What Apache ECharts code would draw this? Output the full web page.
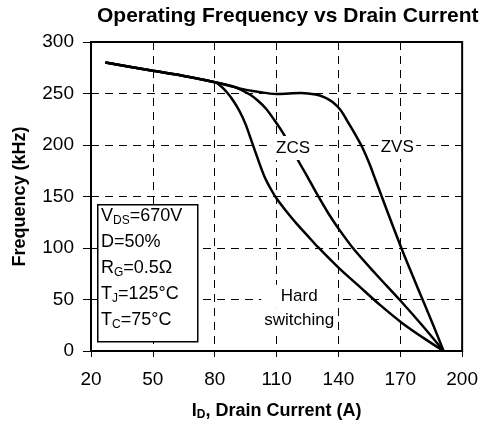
<!DOCTYPE html>
<html>
<head>
<meta charset="utf-8">
<script src="https://cdn.jsdelivr.net/npm/echarts@6/dist/echarts.min.js"></script>
<style>
  html, body { margin: 0; padding: 0; background: #fff; }
  #chart { width: 481px; height: 428px; }
</style>
</head>
<body>
<div id="chart"></div>
<script>
// x axis: drain current 20..200 A, ticks every 30 (shifted so ticks start at 20)
const xStart = 20;
const xTicks = [20, 50, 80, 110, 140, 170, 200];
const yTicks = [0, 50, 100, 150, 200, 250, 300];

// curves (I_D in A, frequency in kHz)
const hardX = [27, 50, 65, 80, 83, 86, 89, 92, 95, 98, 101, 104, 107, 110, 115, 120, 125, 130, 140, 150, 160, 171, 181, 191];
const hardY = [280, 272, 267, 261, 257, 251, 243, 233, 220, 203, 186, 170, 158, 148, 135, 123, 112, 101, 81, 63, 45, 27, 13, 0];

const zcsX = [27, 50, 65, 80, 90, 97, 101, 105, 109, 113, 117, 121, 125, 130, 135, 140, 147, 158, 170, 181, 191];
const zcsY = [280, 272, 267, 261, 256, 249, 243, 235, 224, 212, 198, 183, 169, 151, 134, 119, 100, 75, 49, 24, 0];

const zvsX = [27, 50, 65, 80, 92, 100, 110, 116, 122, 129, 133, 137, 141, 145, 148.5, 151.5, 155, 158, 164, 170.5, 176, 181, 186, 191];
const zvsY = [280, 272, 267, 261, 255, 252, 249.5, 250, 250.5, 249, 246.5, 242, 234, 221, 209, 198, 182, 166, 134, 100, 73, 49, 25, 0];

// curve annotations (data coords)
const noteX = [118, 168.5, 121];
const noteY = [197, 198, 41];
const noteText = ['ZCS', 'ZVS', 'Hard\nswitching'];
const noteWidth = [40, 38, 76];

const conditions = [
  '{n|V}{s|DS}{n|=670V}',
  '{n|D=50%}',
  '{n|R}{s|G}{n|=0.5Ω}',
  '{n|T}{s|J}{n|=125°C}',
  '{n|T}{s|C}{n|=75°C}'
];

const pts = (xs, ys) => xs.map((x, i) => [x - xStart, ys[i]]);

const font = '"Liberation Sans", Arial, sans-serif';
const curve = (name, xs, ys) => ({
  name: name,
  type: 'line',
  data: pts(xs, ys),
  symbol: 'none',
  smooth: 0.3,
  lineStyle: { color: '#000', width: 2.5 },
  z: 3
});

const chart = echarts.init(document.getElementById('chart'));
chart.setOption({
  animation: false,
  backgroundColor: '#fff',
  textStyle: { fontFamily: font },
  title: {
    text: 'Operating Frequency vs Drain Current',
    left: 92,
    top: 1,
    textStyle: { fontFamily: font, fontSize: 21, fontWeight: 'bold', color: '#000' }
  },
  grid: {
    left: 91, right: 18, top: 42, bottom: 77,
    show: true, borderColor: '#000', borderWidth: 2
  },
  xAxis: {
    type: 'value',
    min: 0,
    max: xTicks[xTicks.length - 1] - xStart,
    interval: 30,
    name: '{a|I}{s|D}{a|, Drain Current (A)}',
    nameLocation: 'middle',
    nameGap: 50,
    nameTextStyle: {
      rich: {
        a: { fontFamily: font, fontSize: 18, fontWeight: 'bold', color: '#000' },
        s: { fontFamily: font, fontSize: 12, fontWeight: 'bold', color: '#000', padding: [8, 0, 0, 0] }
      }
    },
    axisLine: { lineStyle: { color: '#000', width: 2 } },
    axisTick: { length: 6, lineStyle: { color: '#000', width: 1 } },
    axisLabel: {
      margin: 19,
      fontSize: 19, color: '#000', fontFamily: font,
      formatter: v => String(v + xStart)
    },
    splitLine: { lineStyle: { color: '#000', width: 1, type: [8, 6] } }
  },
  yAxis: [{
    type: 'value',
    min: yTicks[0],
    max: yTicks[yTicks.length - 1],
    interval: 50,
    name: 'Frequency (kHz)',
    nameLocation: 'middle',
    nameGap: 62,
    nameTextStyle: { fontFamily: font, fontSize: 18, fontWeight: 'bold', color: '#000' },
    axisLine: { show: true, lineStyle: { color: '#000', width: 2 } },
    axisTick: { show: true, length: 8, lineStyle: { color: '#000', width: 1 } },
    axisLabel: { margin: 17, fontSize: 19, color: '#000', fontFamily: font },
    splitLine: { lineStyle: { color: '#000', width: 1, type: [8, 6] } }
  }, {
    // same scale again, only to draw the inner half of the ticks
    type: 'value',
    position: 'left',
    min: yTicks[0],
    max: yTicks[yTicks.length - 1],
    interval: 50,
    axisLine: { show: false },
    axisTick: { show: true, inside: true, length: 8, lineStyle: { color: '#000', width: 1 } },
    axisLabel: { show: false },
    splitLine: { show: false }
  }],
  series: [
    curve('Hard switching', hardX, hardY),
    curve('ZCS', zcsX, zcsY),
    curve('ZVS', zvsX, zvsY)
  ]
});

// annotations placed at data coordinates through the chart's own axes
const notes = noteX.map((x, i) => {
  const p = chart.convertToPixel({ gridIndex: 0 }, [x - xStart, noteY[i]]);
  return {
    type: 'text',
    x: p[0],
    y: p[1],
    z: 20,
    style: {
      text: noteText[i].split('\n').map(s => '{b|' + s + '}').join('\n'),
      align: 'center',
      verticalAlign: 'middle',
      rich: {
        b: {
          fontFamily: font,
          fontSize: 17,
          lineHeight: 24,
          height: 24,
          width: noteWidth[i],
          align: 'center',
          fill: '#000',
          backgroundColor: '#fff'
        }
      }
    }
  };
});

chart.setOption({
  graphic: notes.concat([
    {
      type: 'rect',
      left: 97,
      top: 204,
      z: 20,
      shape: { x: 0, y: 0, width: 100, height: 137 },
      style: { fill: '#fff', stroke: '#000', lineWidth: 1.5 }
    },
    {
      type: 'text',
      left: 101,
      top: 206,
      z: 21,
      style: {
        text: conditions.join('\n'),
        rich: {
          n: { fontFamily: font, fontSize: 18, lineHeight: 26, fill: '#000' },
          s: { fontFamily: font, fontSize: 12, lineHeight: 26, fill: '#000', padding: [9, 0, 0, 0] }
        }
      }
    }
  ])
});
</script>
</body>
</html>
